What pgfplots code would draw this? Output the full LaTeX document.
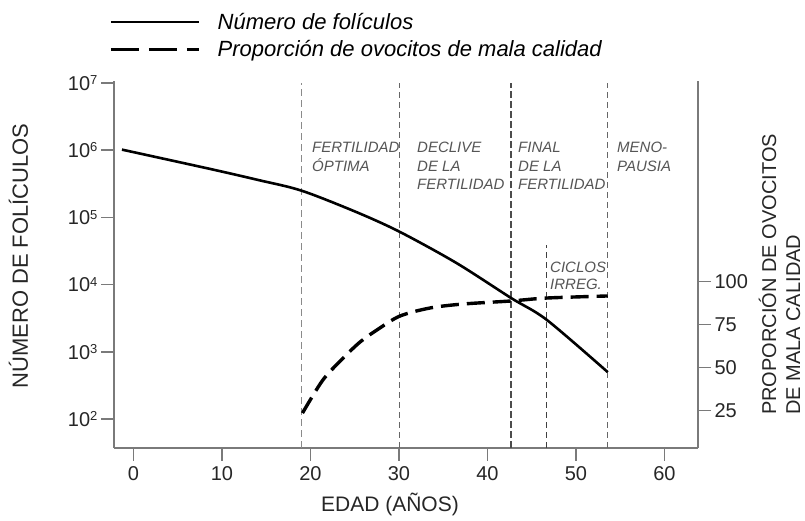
\documentclass[border=0pt]{standalone}
\usepackage{fontspec}
\setmainfont{Liberation Sans}
\usepackage{pgfplots}
\pgfplotsset{compat=1.18}
\definecolor{axgray}{HTML}{7A7A7A}
\definecolor{txtgray}{HTML}{555555}
\definecolor{vgray}{HTML}{8A8A8A}
\newcommand{\pp}[2]{({(#1-114)*1pt},{(448-#2)*1pt})}
\newcommand{\tp}[1]{10\raisebox{5.5pt}{\fontsize{13}{13}\selectfont #1}}
\begin{document}
\begin{tikzpicture}
\path[use as bounding box] (-114pt,-73pt) rectangle (691pt,448pt);
\begin{axis}[
  at={(0,0)}, anchor=south west,
  scale only axis, width=584pt, height=367pt,
  xmin=-2.2, xmax=63.8,
  ymode=log, ymin=37.2, ymax=1.07e7,
  axis x line*=bottom, axis y line*=left,
  axis line style={axgray, line width=1.6pt},
  tick align=outside, major tick length=13pt,
  every tick/.style={axgray, line width=1.4pt},
  yminorticks=false, xminorticks=false,
  xtick={0,10,20,30,40,50,60}, xticklabels={0,10,20,30,40,50,60},
  xticklabel style={yshift=-2pt},
  ytick={100,1000,10000,100000,1000000,10000000},
  yticklabels={\tp{2},\tp{3},\tp{4},\tp{5},\tp{6},\tp{7}},
  ticklabel style={font=\fontsize{20}{24}\selectfont, text=black!85},
  legend style={draw=none, fill=none, at={(-0.009,1.194)}, anchor=north west,
    font=\fontsize{22}{26}\selectfont\itshape, row sep=4pt, inner sep=0pt,
    nodes={inner sep=3pt},
    /tikz/every odd column/.append style={column sep=14pt}},
  legend cell align=left,
  legend image code/.code={\draw[#1] (0pt,0pt) -- (88pt,0pt);},
]
\addplot[forget plot, vgray, line width=1.8pt, dash pattern=on 7pt off 4pt] coordinates {(19,37.2) (19,1e7)};
\addplot[forget plot, black!60, line width=1.0pt, dash pattern=on 6pt off 4pt] coordinates {(30.1,37.2) (30.1,1e7)};
\addplot[forget plot, black!70, line width=1.7pt, dash pattern=on 7pt off 3pt] coordinates {(42.7,37.2) (42.7,1e7)};
\addplot[forget plot, black!75, line width=1.1pt, dash pattern=on 6pt off 4pt] coordinates {(46.7,37.2) (46.7,39000)};
\addplot[forget plot, black!60, line width=1.0pt, dash pattern=on 6pt off 4pt] coordinates {(53.6,37.2) (53.6,1e7)};
\addplot[black, line width=2.6pt, smooth, tension=0.5] coordinates {
(-1.3,1020000) (8.7,525000) (14,363000) (19,250000) (25.2,120000) (30.1,61000) (36.5,21000) (42.7,6300) (46.7,3000) (53.6,500)};
\addlegendentry{Número de folículos}
\addlegendimage{black, line width=3.8pt, dash pattern=on 28pt off 10pt}
\addlegendentry{Proporción de ovocitos de mala calidad}
\end{axis}
\begin{axis}[
  at={(0,0)}, anchor=south west,
  scale only axis, width=584pt, height=367pt,
  xmin=-2.2, xmax=63.8, ymin=3.2, ymax=216.6,
  axis x line=none, axis y line*=right,
  axis line style={axgray, line width=1.6pt},
  tick align=outside, major tick length=13pt,
  every tick/.style={axgray, line width=1.4pt},
  yminorticks=false,
  ytick={25,50,75,100}, yticklabels={25,50,75,100},
  yticklabel style={font=\fontsize{20}{24}\selectfont, text=black!85},
]
\addplot[black, line width=3.4pt, dash pattern=on 18pt off 8pt, smooth, tension=0.5] coordinates {
(19.1,23.5) (21.4,42.7) (23.7,55.5) (25.6,64.8) (27.5,71.8) (30.1,79.9) (33.5,84.6) (37.2,86.9) (42.7,88.7) (46.7,90.4) (53.6,91.6)};
\end{axis}
\node[rotate=90, anchor=base, inner sep=0pt, font=\fontsize{22}{26}\selectfont, text=black!85] at \pp{28}{256} {NÚMERO DE FOLÍCULOS};
\node[anchor=base, inner sep=0pt, font=\fontsize{21}{25}\selectfont, text=black!85] at \pp{390}{512} {EDAD (AÑOS)};
\node[rotate=90, anchor=base west, inner sep=0pt, font=\fontsize{20}{24}\selectfont, text=black!85] at \pp{776}{415} {PROPORCIÓN DE OVOCITOS};
\node[rotate=90, anchor=base west, inner sep=0pt, font=\fontsize{20}{24}\selectfont, text=black!85] at \pp{800}{415} {DE MALA CALIDAD};
\begin{scope}[every node/.style={anchor=base west, inner sep=0pt, font=\fontsize{15}{17}\selectfont\itshape, text=txtgray}]
\node at \pp{312}{153} {FERTILIDAD};
\node at \pp{312}{172} {ÓPTIMA};
\node at \pp{417}{153} {DECLIVE};
\node at \pp{417}{172} {DE LA};
\node at \pp{417}{190} {FERTILIDAD};
\node at \pp{518}{153} {FINAL};
\node at \pp{518}{172} {DE LA};
\node at \pp{518}{190} {FERTILIDAD};
\node at \pp{617}{153} {MENO-};
\node at \pp{617}{172} {PAUSIA};
\node at \pp{550}{273} {CICLOS};
\node at \pp{550}{290} {IRREG.};
\end{scope}
\end{tikzpicture}
\end{document}
